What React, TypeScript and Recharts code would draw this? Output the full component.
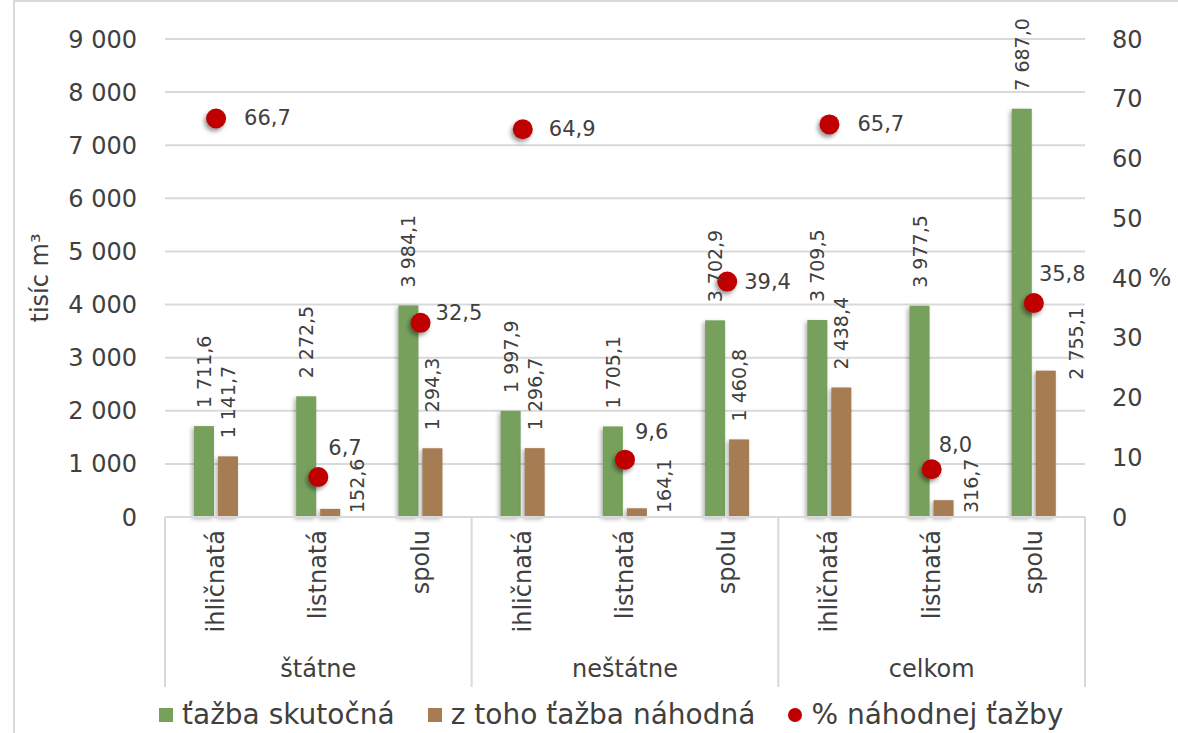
import React from 'react';
import { ComposedChart, Bar, Line, XAxis, YAxis, CartesianGrid, LabelList } from 'recharts';

const categories = ['ihličnatá', 'listnatá', 'spolu', 'ihličnatá', 'listnatá', 'spolu', 'ihličnatá', 'listnatá', 'spolu'];
const groups = ['štátne', 'neštátne', 'celkom'];
const tazbaSkutocna = [1711.6, 2272.5, 3984.1, 1997.9, 1705.1, 3702.9, 3709.5, 3977.5, 7687.0];
const tazbaNahodna = [1141.7, 152.6, 1294.3, 1296.7, 164.1, 1460.8, 2438.4, 316.7, 2755.1];
const percentNahodnej = [66.7, 6.7, 32.5, 64.9, 9.6, 39.4, 65.7, 8.0, 35.8];
const leftTicks = [0, 1000, 2000, 3000, 4000, 5000, 6000, 7000, 8000, 9000];
const rightTicks = [0, 10, 20, 30, 40, 50, 60, 70, 80];

// where the % labels sit relative to their dot (dx, dy) - moved by hand like in the original
const pctLabelOffsets = [[28, 0], [10, -29], [15, -10], [26, 0], [10, -28], [17, 0], [28, 0], [7, -24], [5, -29]];

const FONT = '"DejaVu Sans", sans-serif';
const TEXT = '#404040';
const GRID = '#d9d9d9';
const GREEN = '#77a05d';
const BROWN = '#a67c52';
const RED = '#c00000';

const data = categories.map((name, i) => ({
    name,
    group: groups[Math.floor(i / 3)],
    skutocna: tazbaSkutocna[i],
    nahodna: tazbaNahodna[i],
    pct: percentNahodnej[i],
}));

const withSpaces = (s: string) => s.replace(/\B(?=(\d{3})+(?!\d))/g, ' ');
const fmt = (v: number) => {
    const [int, dec] = v.toFixed(1).split('.');
    return `${withSpaces(int)},${dec}`;
};

const CategoryTick = (props: any) => {
    const { x, y, payload, index } = props;
    const half = payload && payload.offset ? payload.offset : 51;
    const top = y + 13;
    return (
        <g>
            <text
                x={x}
                y={top}
                transform={`rotate(-90 ${x} ${top})`}
                textAnchor="end"
                dominantBaseline="central"
                fontSize={24}
                fill={TEXT}
                fontFamily={FONT}
            >
                {payload.value}
            </text>
            {index % 3 === 0 && <line x1={x - half} x2={x - half} y1={y} y2={y + 170} stroke={GRID} strokeWidth={2} />}
            {index === categories.length - 1 && <line x1={x + half} x2={x + half} y1={y} y2={y + 170} stroke={GRID} strokeWidth={2} />}
            {index % 3 === 1 && (
                <text x={x} y={y + 152} textAnchor="middle" dominantBaseline="central" fontSize={24} fill={TEXT} fontFamily={FONT}>
                    {groups[Math.floor(index / 3)]}
                </text>
            )}
        </g>
    );
};

const barLabel = (kind: 'green' | 'brown') => (props: any) => {
    const vb = props.viewBox || props;
    const x = vb.x;
    const w = vb.width;
    const top = Math.min(vb.y, vb.y + vb.height);
    const bottom = Math.max(vb.y, vb.y + vb.height);
    const value = props.value;
    let cx = x + w / 2;
    let sy = top - 18;
    if (kind === 'brown') {
        if (value < 500) {
            // tiny bars: label pushed right of the bar
            cx += 27;
            sy = bottom - 4;
        } else if (props.index === 8) {
            cx += 30;
            sy = top + 9;
        }
    }
    return (
        <text
            x={cx}
            y={sy}
            transform={`rotate(-90 ${cx} ${sy})`}
            textAnchor="start"
            dominantBaseline="central"
            fontSize={19}
            fill={TEXT}
            fontFamily={FONT}
        >
            {fmt(value)}
        </text>
    );
};

const pctLabel = (props: any) => {
    const vb = props.viewBox || props;
    const cx = vb.x + (vb.width || 0) / 2;
    const cy = vb.y + (vb.height || 0) / 2;
    const [dx, dy] = pctLabelOffsets[props.index] || [26, 0];
    return (
        <text x={cx + dx} y={cy + dy} textAnchor="start" dominantBaseline="central" fontSize={21} fill={TEXT} fontFamily={FONT}>
            {fmt(props.value)}
        </text>
    );
};

const shadowRect = (fill: string) => (props: any) => {
    const { x, y, width, height } = props;
    if (!height) return <g />;
    return (
        <rect
            x={x}
            y={y}
            width={width}
            height={height}
            fill={fill}
            style={{ filter: 'drop-shadow(-2px 2px 2px rgba(0,0,0,0.3))' }}
        />
    );
};

const RedDot = (props: any) => {
    const { cx, cy, index } = props;
    if (cx == null || cy == null) return <g key={index} />;
    return (
        <circle
            key={index}
            cx={cx}
            cy={cy}
            r={10}
            fill={RED}
            style={{ filter: 'drop-shadow(-2px 3px 2px rgba(0,0,0,0.4))' }}
        />
    );
};

const LeftLabel = (props: any) => {
    const vb = props.viewBox;
    const cx = 40;
    const cy = vb.y + vb.height / 2;
    return (
        <text x={cx} y={cy} transform={`rotate(-90 ${cx} ${cy})`} textAnchor="middle" dominantBaseline="central" fontSize={24} fill={TEXT} fontFamily={FONT}>
            tisíc m³
        </text>
    );
};

const RightLabel = (props: any) => {
    const vb = props.viewBox;
    const cy = vb.y + vb.height / 2;
    return (
        <text x={1160} y={cy} textAnchor="middle" dominantBaseline="central" fontSize={24} fill={TEXT} fontFamily={FONT}>
            %
        </text>
    );
};

const legendItems = [
    { label: 'ťažba skutočná', color: GREEN, round: false },
    { label: 'z toho ťažba náhodná', color: BROWN, round: false },
    { label: '% náhodnej ťažby', color: RED, round: true },
];

export default function App() {
    return (
        <div style={{ position: 'absolute', left: 0, top: 0, width: 1178, height: 733, background: '#fff', fontFamily: FONT }}>
            <div style={{ position: 'absolute', left: 13, top: 0, width: 2, height: 733, background: GRID }} />
            <div style={{ position: 'absolute', left: 13, top: 0, width: 1165, height: 2, background: GRID }} />
            <ComposedChart
                width={1178}
                height={733}
                data={data}
                margin={{ top: 39, right: 0, bottom: 0, left: 0 }}
                barSize={20}
                barGap={4}
                style={{ fontFamily: FONT }}
            >
                <CartesianGrid yAxisId="left" vertical={false} stroke={GRID} strokeWidth={2} />
                <XAxis
                    dataKey="name"
                    height={216}
                    interval={0}
                    tickLine={false}
                    tickSize={0}
                    tickMargin={0}
                    axisLine={{ stroke: GRID, strokeWidth: 2 }}
                    tick={<CategoryTick />}
                />
                <YAxis
                    yAxisId="left"
                    width={165}
                    domain={[0, 9000]}
                    ticks={leftTicks}
                    axisLine={false}
                    tickLine={false}
                    tickMargin={22}
                    tickFormatter={(v: number) => withSpaces(String(v))}
                    tick={{ fontSize: 24, fill: TEXT, fontFamily: FONT }}
                    label={<LeftLabel />}
                />
                <YAxis
                    yAxisId="right"
                    orientation="right"
                    width={93}
                    domain={[0, 80]}
                    ticks={rightTicks}
                    axisLine={false}
                    tickLine={false}
                    tickMargin={21}
                    tick={{ fontSize: 24, fill: TEXT, fontFamily: FONT }}
                    label={<RightLabel />}
                />
                <Bar yAxisId="left" dataKey="skutocna" fill={GREEN} shape={shadowRect(GREEN)} isAnimationActive={false}>
                    <LabelList dataKey="skutocna" content={barLabel('green')} />
                </Bar>
                <Bar yAxisId="left" dataKey="nahodna" fill={BROWN} shape={shadowRect(BROWN)} isAnimationActive={false}>
                    <LabelList dataKey="nahodna" content={barLabel('brown')} />
                </Bar>
                <Line
                    yAxisId="right"
                    dataKey="pct"
                    stroke="none"
                    dot={<RedDot />}
                    activeDot={false}
                    isAnimationActive={false}
                >
                    <LabelList dataKey="pct" content={pctLabel} />
                </Line>
            </ComposedChart>
            <div
                style={{
                    position: 'absolute',
                    left: 159,
                    top: 698,
                    display: 'flex',
                    alignItems: 'center',
                    fontSize: 28,
                    color: TEXT,
                    whiteSpace: 'nowrap',
                    lineHeight: '34px',
                }}
            >
                {legendItems.map((item) => (
                    <div key={item.label} style={{ display: 'flex', alignItems: 'center', marginRight: 33 }}>
                        <span
                            style={{
                                display: 'inline-block',
                                width: 14,
                                height: 14,
                                background: item.color,
                                borderRadius: item.round ? '50%' : 0,
                                marginRight: 9,
                            }}
                        />
                        <span>{item.label}</span>
                    </div>
                ))}
            </div>
        </div>
    );
}
